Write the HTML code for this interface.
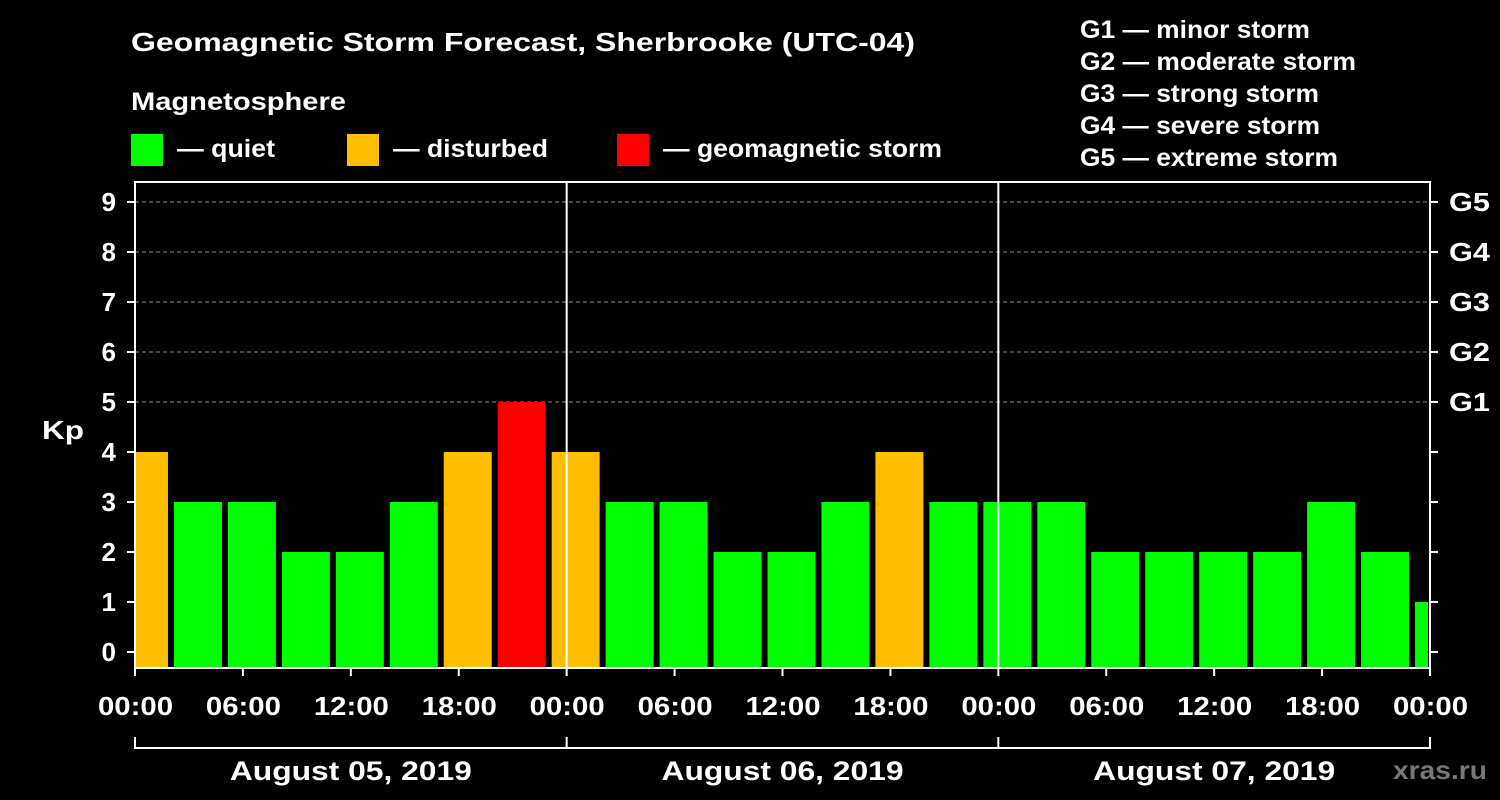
<!DOCTYPE html>
<html><head><meta charset="utf-8"><style>
html,body{margin:0;padding:0;background:#000;}
svg{display:block;font-family:"Liberation Sans",Arial,sans-serif;font-weight:bold;}
</style></head><body>
<svg id="chart" width="1500" height="800" viewBox="0 0 1500 800">
<rect x="0" y="0" width="1500" height="800" fill="#000"/>
<text x="131" y="51" fill="#fff" font-size="26" textLength="784" lengthAdjust="spacingAndGlyphs">Geomagnetic Storm Forecast, Sherbrooke (UTC-04)</text>
<text x="131" y="110" fill="#fff" font-size="25" textLength="215" lengthAdjust="spacingAndGlyphs">Magnetosphere</text>
<g><rect x="131" y="134" width="32" height="32" fill="#00ff00"/><text x="177" y="157" fill="#fff" font-size="25" textLength="98" lengthAdjust="spacingAndGlyphs">— quiet</text></g>
<g><rect x="347" y="134" width="32" height="32" fill="#ffbf00"/><text x="393" y="157" fill="#fff" font-size="25" textLength="155" lengthAdjust="spacingAndGlyphs">— disturbed</text></g>
<g><rect x="617" y="134" width="32" height="32" fill="#ff0000"/><text x="663" y="157" fill="#fff" font-size="25" textLength="279" lengthAdjust="spacingAndGlyphs">— geomagnetic storm</text></g>
<g fill="#fff" font-size="25">
<text x="1080" y="38" textLength="230" lengthAdjust="spacingAndGlyphs">G1 — minor storm</text>
<text x="1080" y="70" textLength="276" lengthAdjust="spacingAndGlyphs">G2 — moderate storm</text>
<text x="1080" y="102" textLength="239" lengthAdjust="spacingAndGlyphs">G3 — strong storm</text>
<text x="1080" y="134" textLength="240" lengthAdjust="spacingAndGlyphs">G4 — severe storm</text>
<text x="1080" y="166" textLength="258" lengthAdjust="spacingAndGlyphs">G5 — extreme storm</text>
</g>
<text x="42" y="439" fill="#fff" font-size="26" textLength="42" lengthAdjust="spacingAndGlyphs">Kp</text>
<text x="1393" y="779" fill="#777" font-size="26" textLength="94" lengthAdjust="spacingAndGlyphs">xras.ru</text>
<g id="grid"></g><g id="bars"></g><g id="axes"></g>
</svg>
<script>
const kpValues=[4,3,3,2,2,3,4,5,4,3,3,2,2,3,4,3,3,3,2,2,2,2,3,2,1];
const yTicks=[0,1,2,3,4,5,6,7,8,9];
const gLabels=["G1","G2","G3","G4","G5"];
const xTickLabels=["00:00","06:00","12:00","18:00","00:00","06:00","12:00","18:00","00:00","06:00","12:00","18:00","00:00"];
const dayLabels=["August 05, 2019","August 06, 2019","August 07, 2019"];
const firstBinHour=-1, binHours=3, totalHours=72;
const X0=135,X1=1430,PT=182,PB=668;
const xs=h=>X0+(X1-X0)*h/totalHours;
const ys=v=>652-50*v;
const NS="http://www.w3.org/2000/svg";
function mk(tag,attrs,parent){const e=document.createElementNS(NS,tag);for(const k in attrs)e.setAttribute(k,attrs[k]);parent.appendChild(e);return e;}
const grid=document.getElementById('grid'),bars=document.getElementById('bars'),axes=document.getElementById('axes');
for(let v=5;v<=9;v++){const l=mk('line',{x1:X0,x2:X1,y1:ys(v),y2:ys(v),stroke:'#888','stroke-dasharray':'4,3','stroke-width':1},grid);

}
kpValues.forEach((v,i)=>{
 const h0=firstBinHour+i*binHours,h1=h0+binHours;
 let a=xs(h0)+3,b=xs(h1)-3;
 a=Math.max(a,X0+1);b=Math.min(b,X1-2);
 const c=v>=5?'#ff0000':(v>=4?'#ffbf00':'#00ff00');
 const r=mk('rect',{x:a,y:ys(v),width:b-a,height:PB-ys(v),fill:c},bars);
 
 
});
const fr=mk('rect',{x:X0,y:PT,width:X1-X0,height:PB-PT,fill:'none',stroke:'#fff','stroke-width':2},axes);


for(let d=1;d<3;d++){const l=mk('line',{x1:xs(24*d),x2:xs(24*d),y1:PT,y2:PB,stroke:'#fff','stroke-width':2},axes);

}
yTicks.forEach(v=>{
 mk('line',{x1:X0-8,x2:X0,y1:ys(v),y2:ys(v),stroke:'#fff','stroke-width':2},axes);
 mk('line',{x1:X1,x2:X1+8,y1:ys(v),y2:ys(v),stroke:'#fff','stroke-width':2},axes);
 const t=mk('text',{x:116,y:ys(v)+9,fill:'#fff','font-size':26,'text-anchor':'end'},axes);t.textContent=v;
 
 
});
gLabels.forEach((g,i)=>{const t=mk('text',{x:1449,y:ys(5+i)+9,fill:'#fff','font-size':26,textLength:41,lengthAdjust:'spacingAndGlyphs'},axes);t.textContent=g;
 
 });
xTickLabels.forEach((s,i)=>{const x=xs(i*6);
 mk('line',{x1:x,x2:x,y1:PB,y2:PB+8,stroke:'#fff','stroke-width':2},axes);
 const t=mk('text',{x:x-37,y:715,fill:'#fff','font-size':26,textLength:75,lengthAdjust:'spacingAndGlyphs'},axes);t.textContent=s;
 
 });
mk('line',{x1:X0,x2:X1,y1:748,y2:748,stroke:'#fff','stroke-width':2},axes);
for(let d=0;d<=3;d++)mk('line',{x1:xs(24*d),x2:xs(24*d),y1:737,y2:749,stroke:'#fff','stroke-width':2},axes);
dayLabels.forEach((s,i)=>{const t=mk('text',{x:xs(24*i+12)-121,y:780,fill:'#fff','font-size':27,textLength:242,lengthAdjust:'spacingAndGlyphs'},axes);t.textContent=s;
 
 });
</script>
</body></html>
